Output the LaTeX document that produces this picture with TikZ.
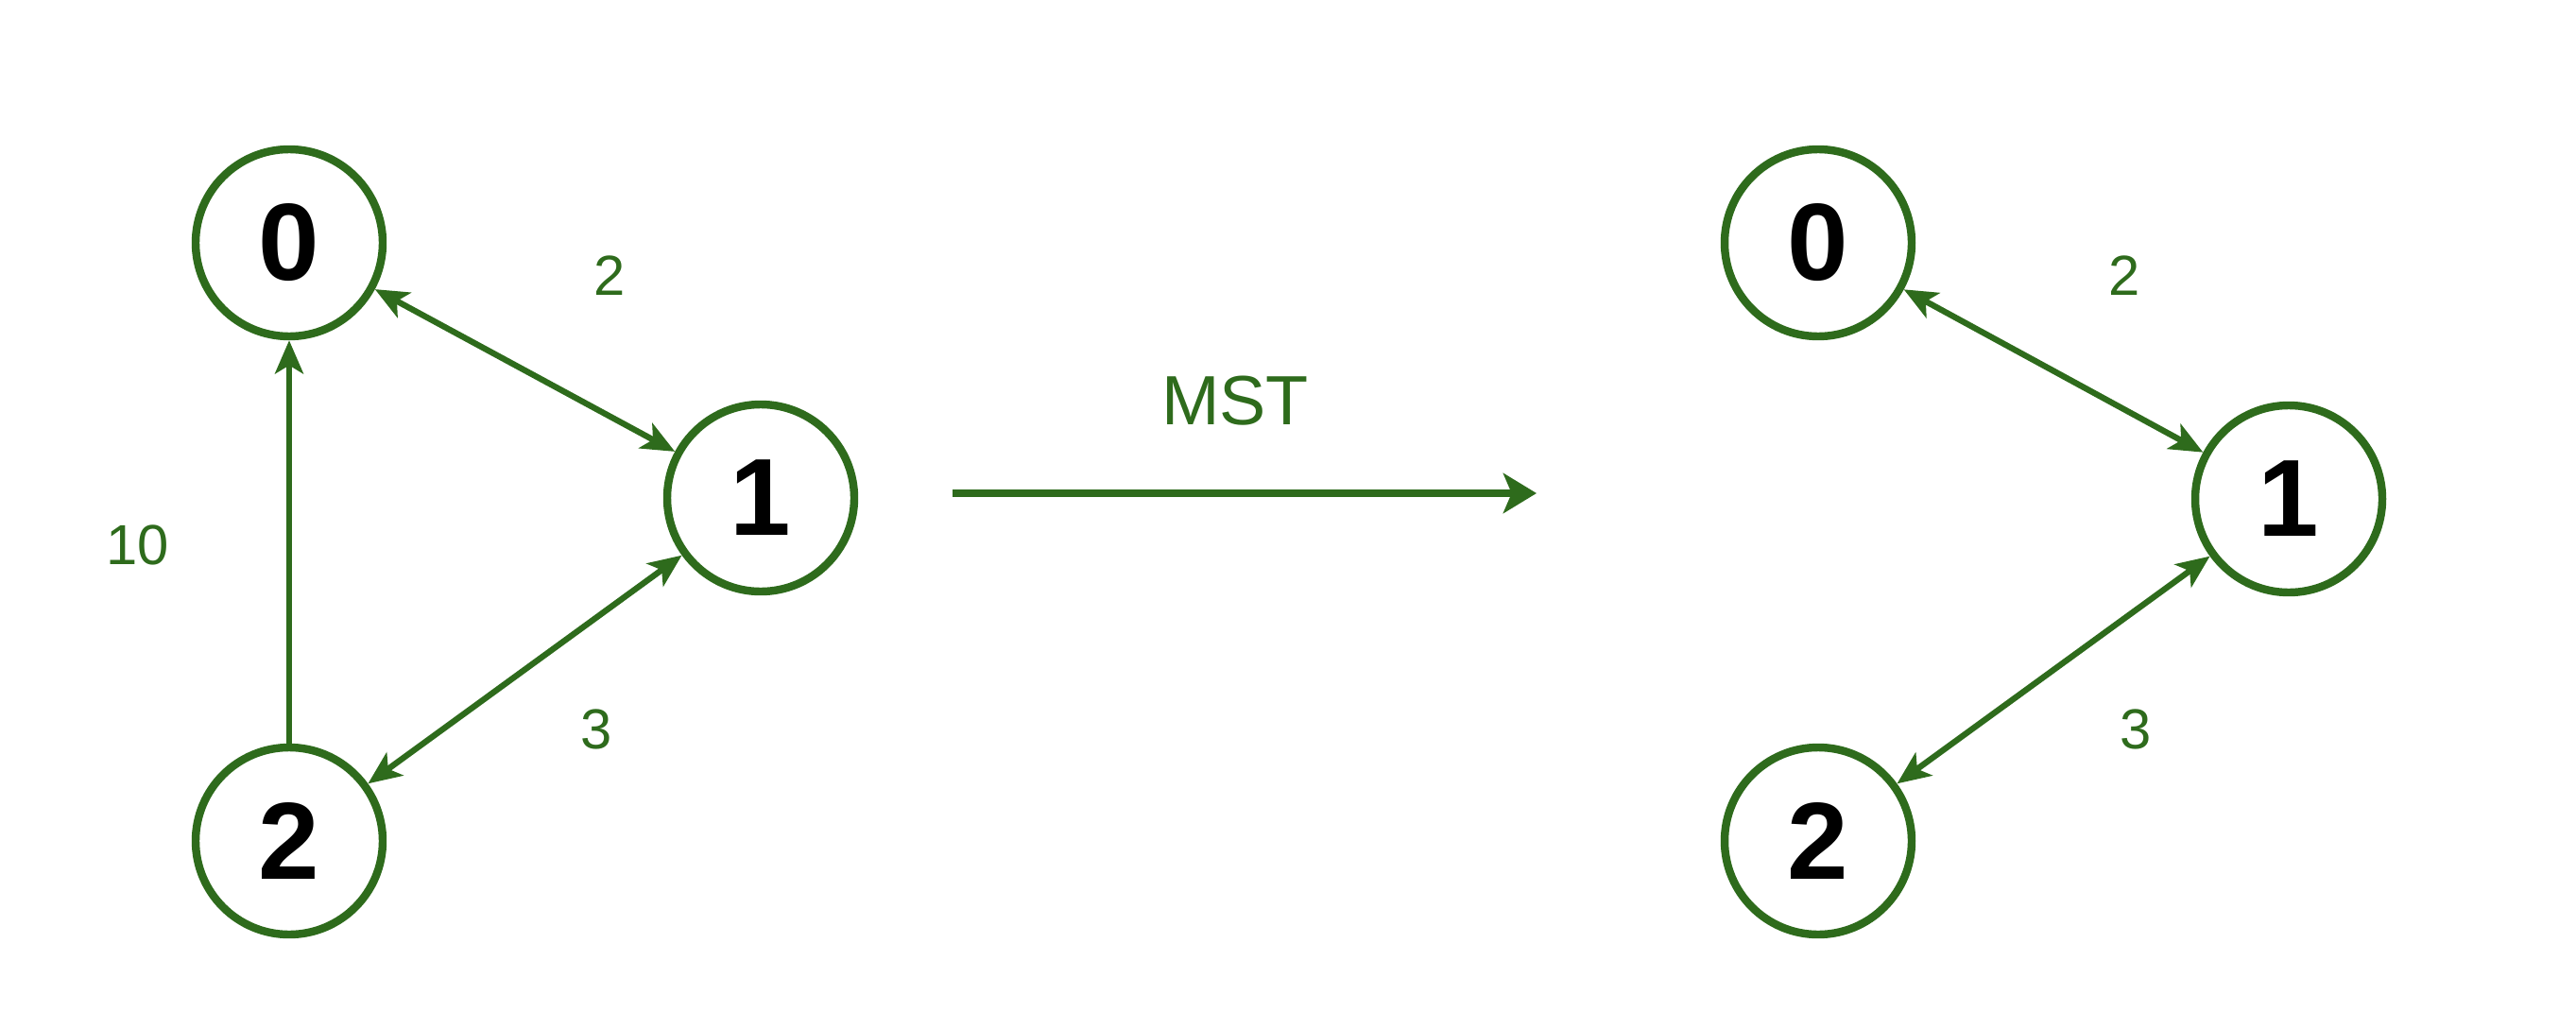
\documentclass[tikz,border=0pt]{standalone}
\usepackage{fontspec}
\setmainfont{Liberation Sans}
\usetikzlibrary{arrows.meta}
\definecolor{mstgreen}{RGB}{46,107,28}

\begin{document}
\begin{tikzpicture}
[thick,%
  vertex/.style={shape=circle,draw=mstgreen,line width=2.4pt,fill=white,minimum size=1.98cm,inner sep=0pt,font=\fontsize{33}{33}\selectfont\bfseries},%
  edge/.style={draw=mstgreen,line width=1.8pt,-{Stealth[length=10pt,width=8.5pt,inset=2.5pt]}},%
  both/.style={edge,{Stealth[length=10pt,width=8.5pt,inset=2.5pt]}-{Stealth[length=10pt,width=8.5pt,inset=2.5pt]}},%
  weight/.style={text=mstgreen,font=\fontsize{17}{17}\selectfont}]
\useasboundingbox (0,0) rectangle (27.26,10.70);
% graph before
\node[vertex] (l0) at (3.06,8.13) {0};
\node[vertex] (l1) at (8.05,5.43) {1};
\node[vertex] (l2) at (3.06,1.80) {2};
\draw[edge] (l2) -- (l0);
\draw[both] (l0) -- (l1);
\draw[both] (l1) -- (l2);
\node[weight] (w01) at (6.45,7.78) {2};
\node[weight] (w12) at (6.31,2.98) {3};
\node[weight] (w20) at (1.46,4.93) {10};
% the step
\coordinate (from) at (10.08,5.48);
\coordinate (to) at (16.26,5.48);
\draw[draw=mstgreen,line width=2.1pt,-{Stealth[length=10pt,width=12pt,inset=2.5pt]}] (from) -- (to);
\node[weight,font=\fontsize{21}{21}\selectfont] (mst) at (13.07,6.46) {MST};
% graph after
\node[vertex] (r0) at (19.24,8.13) {0};
\node[vertex] (r1) at (24.22,5.42) {1};
\node[vertex] (r2) at (19.24,1.80) {2};
\draw[both] (r0) -- (r1);
\draw[both] (r1) -- (r2);
\node[weight] (v01) at (22.48,7.78) {2};
\node[weight] (v12) at (22.60,2.98) {3};
\end{tikzpicture}
\end{document}
